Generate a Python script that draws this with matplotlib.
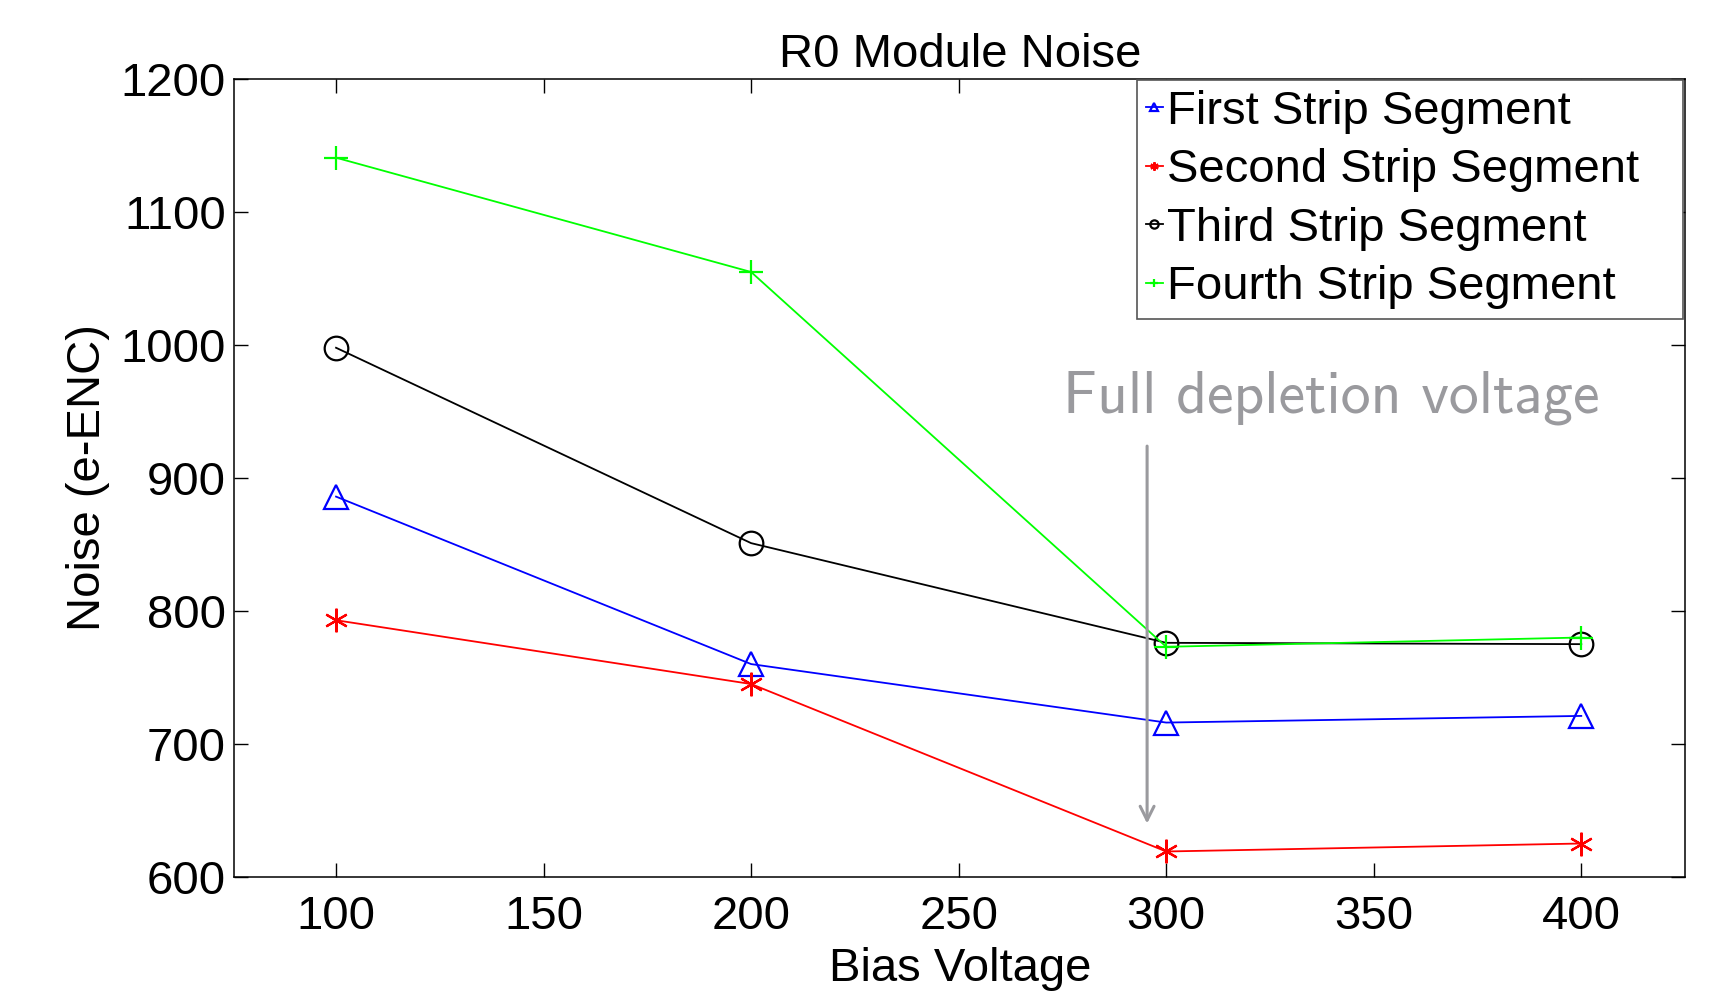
import matplotlib
matplotlib.use("Agg")
import matplotlib.pyplot as plt

# data
bias = [100, 200, 300, 400]
first_seg = [886, 760, 716, 721]
second_seg = [793, 745, 619, 625]
third_seg = [998, 851, 776, 775]
fourth_seg = [1141, 1055, 773, 780]

plt.rcParams['font.family'] = ['Liberation Sans', 'DejaVu Sans']
plt.rcParams['font.size'] = 34

fig = plt.figure(figsize=(17.27, 9.91), dpi=100)
ax = fig.add_axes([0.1357, 0.1153, 0.84, 0.8047])

lw = 1.3
ax.plot(bias, first_seg, color='#0000ff', marker='^', ms=17, mfc='none', mew=1.6, lw=lw,
        label='First Strip Segment')
ax.plot(bias, second_seg, color='#ff0000', marker=(6, 2, 0), ms=17, mew=1.6, lw=lw,
        label='Second Strip Segment')
ax.plot(bias, third_seg, color='black', marker='o', ms=17, mfc='none', mew=1.6, lw=lw,
        label='Third Strip Segment')
ax.plot(bias, fourth_seg, color='#00ff00', marker='+', ms=17, mew=1.6, lw=lw,
        label='Fourth Strip Segment')

ax.set_xlim(75.5, 425)
ax.set_ylim(600, 1200)
ax.set_xticks([100, 150, 200, 250, 300, 350, 400])
ax.set_yticks([600, 700, 800, 900, 1000, 1100, 1200])

ax.tick_params(direction='in', length=10, width=1, top=True, right=True)
ax.tick_params(axis='x', pad=13)
ax.tick_params(axis='y', pad=6)
for s in ax.spines.values():
    s.set_linewidth(1.1)

ax.set_title('R0 Module Noise', fontsize=34, pad=9)
ax.set_xlabel('Bias Voltage', labelpad=6)
ax.set_ylabel('Noise (e-ENC)', labelpad=8)

# full depletion annotation
ax.annotate('', xy=(295.4, 640), xytext=(295.4, 924),
            arrowprops=dict(arrowstyle='->', color='#9a9a9e', lw=2.2,
                            mutation_scale=25, shrinkA=0, shrinkB=0))
ax.text(275.2, 949, 'Full depletion voltage', family='cmss10', fontsize=43,
        color='#9a9a9e', ha='left', va='baseline')

leg = ax.legend(loc='upper left', bbox_to_anchor=(0.622, 0.999, 0.3765, 0), mode='expand',
                fontsize=34, handlelength=0.35, handletextpad=0.1,
                markerscale=0.35, labelspacing=0.31, borderpad=0.2, borderaxespad=0,
                fancybox=False, framealpha=1)
leg.get_frame().set_edgecolor('#555555')
leg.get_frame().set_linewidth(1.2)

fig.savefig('out.png', dpi=100)
